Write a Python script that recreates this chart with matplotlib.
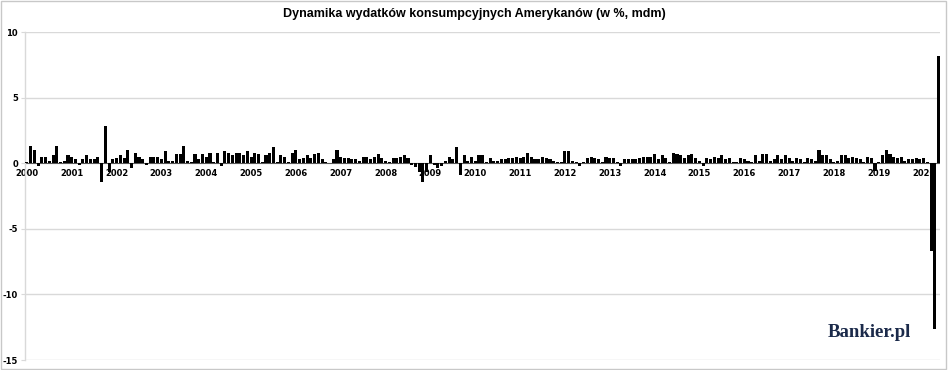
import numpy as np
import matplotlib
matplotlib.use('Agg')
import matplotlib.pyplot as plt
from matplotlib.patches import Rectangle

# monthly change of US consumer spending, % m/m
y2000 = [0.1, 1.3, 1.0, -0.2, 0.5, 0.5, 0.2, 0.6, 1.3, 0.1, 0.2, 0.6]
y2001 = [0.5, 0.3, -0.1, 0.3, 0.6, 0.3, 0.3, 0.5, -1.4, 2.8, -0.7, 0.3]
y2002 = [0.4, 0.6, 0.4, 1.0, -0.4, 0.8, 0.5, 0.3, -0.1, 0.5, 0.5, 0.5]
y2003 = [0.3, 0.9, 0.2, 0.2, 0.7, 0.7, 1.3, 0.2, 0.1, 0.7, 0.3, 0.7]
y2004 = [0.5, 0.8, 0.1, 0.8, -0.2, 0.9, 0.8, 0.6, 0.8, 0.8, 0.6, 0.9]
y2005 = [0.5, 0.8, 0.7, 0.1, 0.6, 0.8, 1.2, 0.1, 0.6, 0.5, 0.1, 0.8]
y2006 = [1.0, 0.3, 0.4, 0.6, 0.4, 0.7, 0.8, 0.3, 0.1, 0.0, 0.3, 1.0]
y2007 = [0.5, 0.4, 0.4, 0.3, 0.3, 0.2, 0.5, 0.5, 0.3, 0.5, 0.7, 0.4]
y2008 = [0.2, 0.1, 0.4, 0.4, 0.5, 0.6, 0.4, -0.1, -0.3, -0.7, -1.4, -0.7]
y2009 = [0.6, -0.1, -0.4, -0.2, 0.2, 0.5, 0.3, 1.2, -0.9, 0.6, 0.2, 0.5]
y2010 = [0.2, 0.6, 0.6, 0.1, 0.4, 0.2, 0.2, 0.3, 0.3, 0.4, 0.4, 0.5]
y2011 = [0.4, 0.5, 0.8, 0.5, 0.3, 0.3, 0.5, 0.4, 0.3, 0.2, 0.1, 0.1]
y2012 = [0.9, 0.9, 0.2, 0.1, -0.2, 0.1, 0.4, 0.5, 0.4, 0.3, 0.1, 0.5]
y2013 = [0.4, 0.4, 0.1, -0.2, 0.3, 0.3, 0.3, 0.3, 0.4, 0.5, 0.5, 0.5]
y2014 = [0.7, 0.3, 0.6, 0.4, 0.1, 0.8, 0.7, 0.6, 0.4, 0.6, 0.7, 0.4]
y2015 = [0.2, -0.2, 0.4, 0.3, 0.5, 0.4, 0.6, 0.3, 0.4, 0.1, 0.1, 0.4]
y2016 = [0.3, 0.2, 0.1, 0.6, 0.2, 0.7, 0.7, 0.2, 0.3, 0.6, 0.3, 0.6]
y2017 = [0.4, 0.2, 0.4, 0.3, 0.1, 0.4, 0.3, 0.2, 1.0, 0.6, 0.6, 0.3]
y2018 = [0.1, 0.2, 0.6, 0.6, 0.4, 0.5, 0.4, 0.3, 0.1, 0.5, 0.4, -0.6]
y2019 = [0.1, 0.6, 1.0, 0.7, 0.5, 0.4, 0.5, 0.2, 0.3, 0.3, 0.4, 0.3]
y2020 = [0.4, 0.1, -6.7, -12.6, 8.2]

yearly = [y2000, y2001, y2002, y2003, y2004, y2005, y2006, y2007, y2008, y2009,
          y2010, y2011, y2012, y2013, y2014, y2015, y2016, y2017, y2018, y2019, y2020]
year_labels = [str(y) for y in range(2000, 2021)]
y_ticks = [10, 5, 0, -5, -10, -15]

values = np.concatenate(yearly)
x = np.arange(len(values))

GRID = '#d9d9d9'
NAVY = '#1b2a4a'

fig = plt.figure(figsize=(9.48, 3.70), dpi=100, facecolor='white')
ax = fig.add_axes([0.0264, 0.027, 0.9656, 0.8865])

ax.bar(x, values, width=0.82, color='black', edgecolor='none', zorder=3)
ax.set_xlim(-0.5, len(values) - 0.5)
ax.set_ylim(-15, 10)

# gridlines + axes styling (Excel look)
ax.set_yticks(y_ticks)
ax.set_yticklabels([str(t) for t in y_ticks], fontsize=6, fontweight='bold')
ax.tick_params(axis='y', length=3, color=GRID, pad=2)
ax.set_xticks([])
for t in y_ticks:
    if t != 0:
        ax.axhline(t, color=GRID, lw=1, zorder=1)
ax.axhline(0, color='#595959', lw=0.8, zorder=2)
for sp in ['top', 'right', 'bottom']:
    ax.spines[sp].set_visible(False)
ax.spines['left'].set_color(GRID)
ax.spines['left'].set_linewidth(1)

# year labels sit right under the zero line
for k, lab in enumerate(year_labels):
    ax.text(12 * k, -0.45, lab, ha='center', va='top', fontsize=6,
            fontweight='bold', zorder=2)

fig.text(0.5, 0.962, 'Dynamika wydatków konsumpcyjnych Amerykanów (w %, mdm)',
         ha='center', va='center', fontsize=9, fontweight='bold',
         family=['Liberation Sans', 'DejaVu Sans'])

# Bankier.pl logo
fig.text(828 / 948, 1 - 337 / 370, 'Bankier.pl', ha='left', va='baseline',
         fontsize=13.5, fontweight='bold', color=NAVY,
         family=['Liberation Serif', 'DejaVu Serif'])

# thin frame around the whole picture
fig.patches.append(Rectangle((0.001, 0.002), 0.997, 0.995, transform=fig.transFigure,
                             fill=False, edgecolor='#c8c8c8', lw=1))

fig.savefig('out.png', dpi=100, facecolor='white')
